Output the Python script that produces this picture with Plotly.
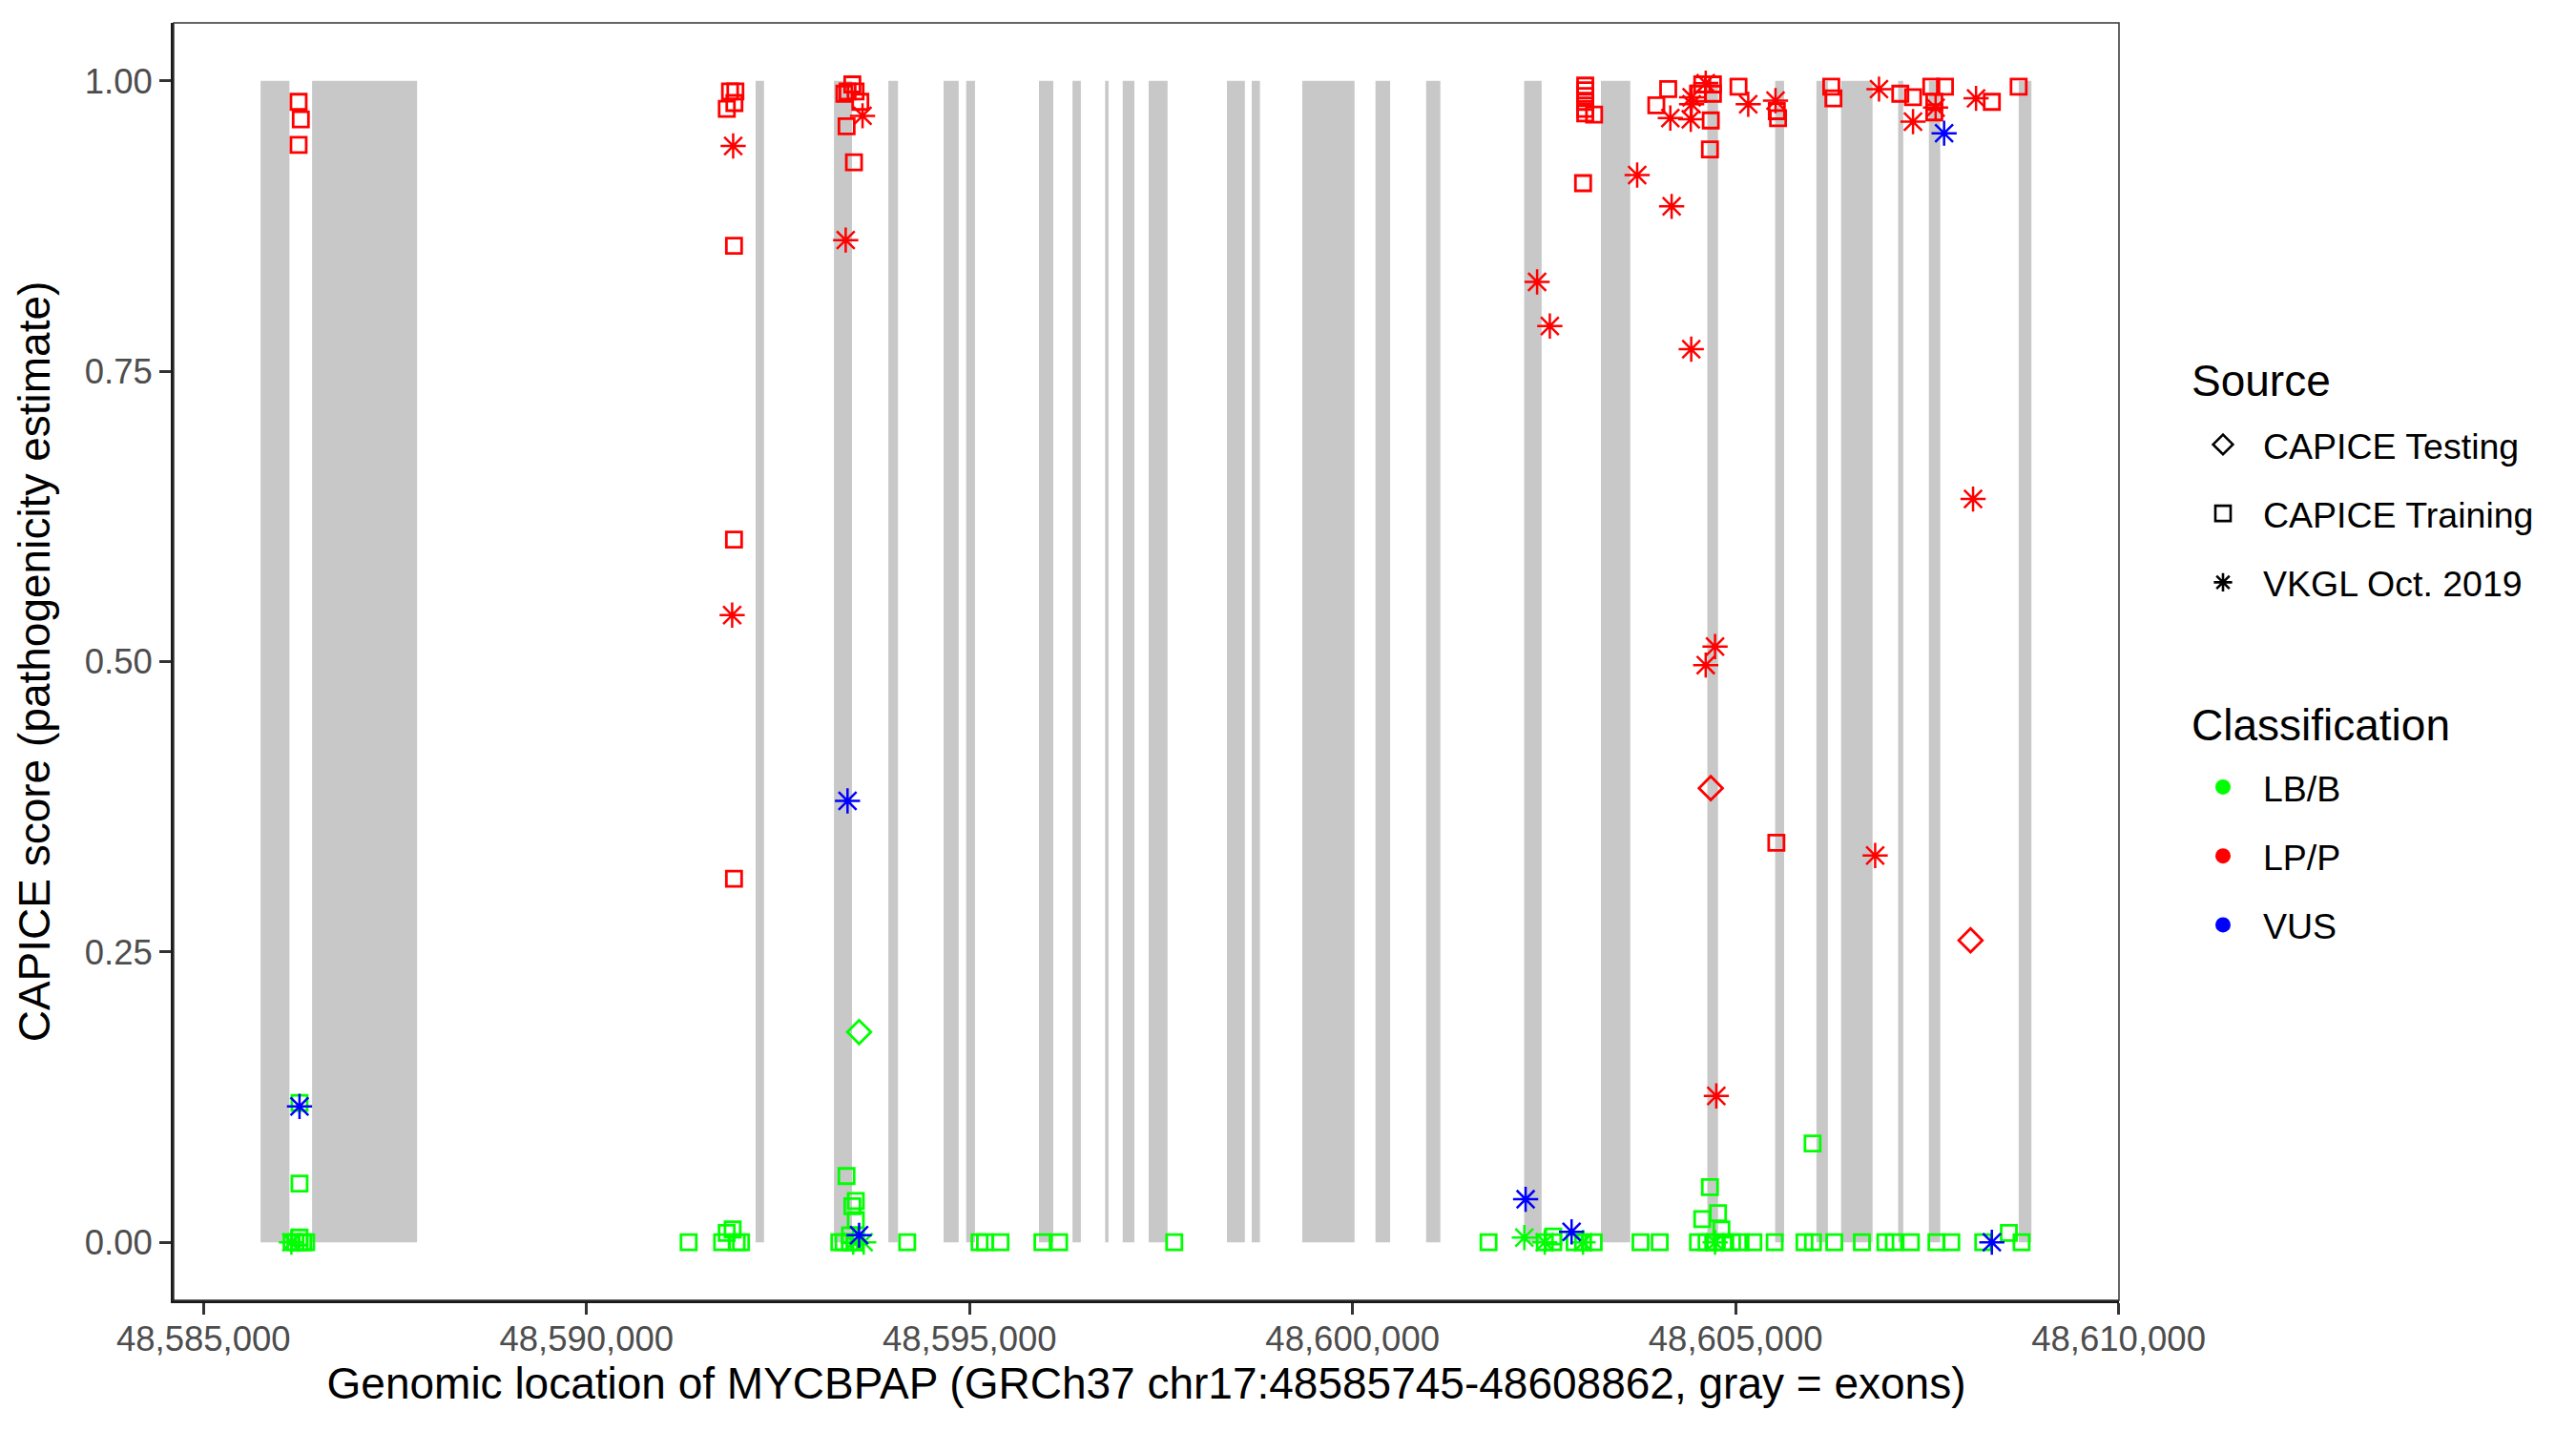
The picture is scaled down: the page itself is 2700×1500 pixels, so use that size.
import plotly.graph_objects as go

# ---------------- data ----------------
exon_start = [48585745, 48586417, 48592207, 48593230, 48593940, 48594661, 48594956,
              48595906, 48596344, 48596770, 48596999, 48597338, 48598360, 48598683,
              48599343, 48600299, 48600960, 48602240, 48603242, 48604631, 48605516,
              48606055, 48606377, 48607122, 48607523, 48608696]
exon_end = [48586122, 48587788, 48592317, 48593465, 48594066, 48594858, 48595071,
            48596093, 48596453, 48596814, 48597152, 48597585, 48598594, 48598791,
            48600026, 48600490, 48601146, 48602468, 48603625, 48604771, 48605633,
            48606205, 48606788, 48607189, 48607672, 48608862]

# CAPICE Training, LB/B
train_lbb_pos = [48586253, 48586253, 48586150, 48586200, 48586253, 48586300, 48586340, 48586253,
                 48591333, 48591770, 48591830, 48591907, 48591960, 48592017,
                 48593394, 48593515, 48593470, 48593515, 48593440, 48593300, 48593355,
                 48593437, 48593500, 48594186, 48595130, 48595202, 48595404, 48595951,
                 48596169, 48597672,
                 48606005, 48604665, 48604771, 48604565, 48604815, 48608567, 48602620,
                 48601775, 48602509, 48602620, 48602898, 48603009, 48603148, 48603759,
                 48604009, 48604509, 48604621, 48604732, 48604843, 48604954, 48605065,
                 48605232, 48605510, 48605899, 48606010, 48606288, 48606649, 48606955,
                 48607066, 48607288, 48607622, 48607816, 48608233, 48608733]
train_lbb_score = [0.120, 0.0505, 0.0, 0.0, 0.0, 0.0, 0.0, 0.004,
                   0.0, 0.0, 0.008, 0.011, 0.0, 0.0,
                   0.057, 0.0355, 0.031, 0.019, 0.006, 0.0, 0.0,
                   0.0, 0.0, 0.0, 0.0, 0.0, 0.0, 0.0,
                   0.0, 0.0,
                   0.085, 0.0475, 0.025, 0.020, 0.011, 0.008, 0.005,
                   0.0, 0.0, 0.0, 0.0, 0.0, 0.0, 0.0,
                   0.0, 0.0, 0.0, 0.0, 0.0, 0.0, 0.0,
                   0.0, 0.0, 0.0, 0.0, 0.0, 0.0, 0.0,
                   0.0, 0.0, 0.0, 0.0, 0.0, 0.0]

# CAPICE Training, LP/P
train_lpp_pos = [48586241, 48586270, 48586241,
                 48591873, 48591943, 48591930, 48591831, 48591925, 48591925, 48591925,
                 48593470, 48593408, 48593512, 48593574, 48593366, 48593395, 48593491,
                 48603037, 48603037, 48603037, 48603037, 48603037, 48603037, 48603153,
                 48603009, 48604120, 48603965, 48604565, 48604704, 48604704, 48604510,
                 48604676, 48604665, 48605038, 48605538, 48605554, 48606249, 48606277,
                 48607150, 48607316, 48607555, 48607733, 48607594, 48607594, 48608345,
                 48608695, 48605532]
train_lpp_score = [0.982, 0.967, 0.945,
                   0.991, 0.991, 0.981, 0.976, 0.858, 0.605, 0.313,
                   0.997, 0.991, 0.991, 0.982, 0.989, 0.961, 0.930,
                   0.996, 0.992, 0.987, 0.982, 0.976, 0.972, 0.971,
                   0.912, 0.993, 0.979, 0.997, 0.997, 0.989, 0.989,
                   0.966, 0.941, 0.995, 0.974, 0.968, 0.995, 0.985,
                   0.989, 0.986, 0.995, 0.995, 0.982, 0.973, 0.982,
                   0.995, 0.344]

# CAPICE Testing
test_lbb_pos = [48593558]
test_lbb_score = [0.181]
test_lpp_pos = [48604676, 48608067]
test_lpp_score = [0.391, 0.260]

# VKGL Oct. 2019
vkgl_lbb_pos = [48586147, 48593481, 48593618, 48602242, 48602509, 48603009, 48604732]
vkgl_lbb_score = [0.0, 0.0, 0.0, 0.004, 0.0, 0.0, 0.0]
vkgl_lpp_pos = [48591914, 48591901, 48593603, 48593383,
                48603715, 48604165, 48602409, 48602575, 48604421, 48604148, 48604415,
                48604426, 48604426, 48604610, 48605165, 48605521, 48606872, 48607316,
                48607611, 48608139, 48608100, 48604732, 48604610, 48606822, 48604748]
vkgl_lpp_score = [0.944, 0.540, 0.970, 0.863,
                  0.919, 0.892, 0.827, 0.789, 0.769, 0.968, 0.967,
                  0.986, 0.980, 0.998, 0.980, 0.983, 0.993, 0.965,
                  0.977, 0.985, 0.640, 0.513, 0.497, 0.333, 0.126]
vkgl_vus_pos = [48586253, 48593407, 48593558, 48602259, 48602859, 48607722, 48608345]
vkgl_vus_score = [0.117, 0.380, 0.006, 0.037, 0.009, 0.955, 0.0]

x_ticks = [48585000, 48590000, 48595000, 48600000, 48605000, 48610000]
y_ticks = [0.0, 0.25, 0.5, 0.75, 1.0]
y_tick_labels = ["0.00", "0.25", "0.50", "0.75", "1.00"]

source_names = ["CAPICE Testing", "CAPICE Training", "VKGL Oct. 2019"]
class_names = ["LB/B", "LP/P", "VUS"]

# ---------------- styling ----------------
GREEN, RED, BLUE = "#00FF00", "#FF0000", "#0000FF"
SYM = {"test": "diamond-open", "train": "square-open", "vkgl": "asterisk-open"}
SIZE = {"test": 19, "train": 16, "vkgl": 22}
LWS = {"test": 2.8, "train": 2.8, "vkgl": 2.5}
FONT = "Liberation Sans, Arial, Helvetica, sans-serif"

W, H = 2700, 1500
ML, MR, MT, MB = 174, 487, 16, 145
PW, PH = W - ML - MR, H - MT - MB

fig = go.Figure()

# exons as shapes (data coordinates)
for s, e in zip(exon_start, exon_end):
    fig.add_shape(type="rect", xref="x", yref="y", x0=s, x1=e, y0=0, y1=1,
                  fillcolor="#C8C8C8", line=dict(width=0), layer="below")

def pts(xs, ys, src, color):
    fig.add_trace(go.Scatter(
        x=xs, y=ys, mode="markers", showlegend=False, hoverinfo="x+y",
        marker=dict(symbol=SYM[src], size=SIZE[src], color=color,
                    line=dict(color=color, width=LWS[src]))))

pts(train_lbb_pos, train_lbb_score, "train", GREEN)
pts(train_lpp_pos, train_lpp_score, "train", RED)
pts(vkgl_lbb_pos, vkgl_lbb_score, "vkgl", GREEN)
pts(vkgl_lpp_pos, vkgl_lpp_score, "vkgl", RED)
pts(vkgl_vus_pos, vkgl_vus_score, "vkgl", BLUE)
pts(test_lbb_pos, test_lbb_score, "test", GREEN)
pts(test_lpp_pos, test_lpp_score, "test", RED)

# legend entries
for name, src in zip(source_names, ["test", "train", "vkgl"]):
    fig.add_trace(go.Scatter(
        x=[None], y=[None], mode="markers", name=name, legend="legend",
        legendgroup=name, hoverinfo="skip",
        marker=dict(symbol=SYM[src], size=16, color="black",
                    line=dict(color="black", width=2.6))))
for name, col in zip(class_names, [GREEN, RED, BLUE]):
    fig.add_trace(go.Scatter(
        x=[None], y=[None], mode="markers", name=name, legend="legend2",
        legendgroup=name, hoverinfo="skip",
        marker=dict(symbol="circle", size=16, color=col, line=dict(width=0))))

legend_common = dict(
    xref="container", yref="container", xanchor="left", yanchor="top",
    font=dict(family=FONT, size=37.5, color="black"), bgcolor="rgba(0,0,0,0)",
    borderwidth=0, tracegroupgap=20.5, itemwidth=74, itemsizing="trace",
    traceorder="grouped")

def px_to_paper_x(px):
    return (px - ML) / PW

def px_to_paper_y(py):
    return (H - MB - py) / PH

fig.update_layout(
    width=W, height=H,
    margin=dict(l=ML, r=MR, t=MT, b=MB),
    paper_bgcolor="white", plot_bgcolor="white",
    font=dict(family=FONT, color="black"),
    xaxis=dict(range=[48584610, 48610005], tickvals=x_ticks, tickformat=",d",
               showgrid=False, zeroline=False, showline=True, linewidth=2.7,
               linecolor="#1A1A1A", ticks="outside", ticklen=12, tickwidth=2.7,
               tickcolor="#333333", tickfont=dict(family=FONT, size=36.5, color="#4D4D4D"),
               ticklabelstandoff=-6,
               title=dict(text="Genomic location of MYCBPAP (GRCh37 chr17:48585745-48608862, gray = exons)",
                          font=dict(family=FONT, size=46, color="black"), standoff=11),
               automargin=False),
    yaxis=dict(range=[-0.05, 1.05], tickvals=y_ticks, ticktext=y_tick_labels,
               showgrid=False, zeroline=False, showline=True, linewidth=2.7,
               linecolor="#1A1A1A", ticks="outside", ticklen=12, tickwidth=2.7,
               tickcolor="#333333", tickfont=dict(family=FONT, size=36.5, color="#4D4D4D"),
               title=dict(text="CAPICE score (pathogenicity estimate)",
                          font=dict(family=FONT, size=46, color="black"), standoff=22),
               automargin=False),
    legend=dict(x=2280 / W, y=1 - 427 / H, **legend_common),
    legend2=dict(x=2280 / W, y=1 - 786 / H, **legend_common),
    annotations=[
        dict(text="Source", xref="paper", yref="paper", showarrow=False,
             x=px_to_paper_x(2287), y=px_to_paper_y(391), xanchor="left", yanchor="middle",
             font=dict(family=FONT, size=46, color="black")),
        dict(text="Classification", xref="paper", yref="paper", showarrow=False,
             x=px_to_paper_x(2287), y=px_to_paper_y(752), xanchor="left", yanchor="middle",
             font=dict(family=FONT, size=46, color="black")),
    ],
)

# panel border
fig.add_shape(type="rect", xref="paper", yref="paper", x0=0, x1=1, y0=0, y1=1,
              line=dict(color="#333333", width=1.5), fillcolor="rgba(0,0,0,0)", layer="above")

fig.write_html("out.html")
